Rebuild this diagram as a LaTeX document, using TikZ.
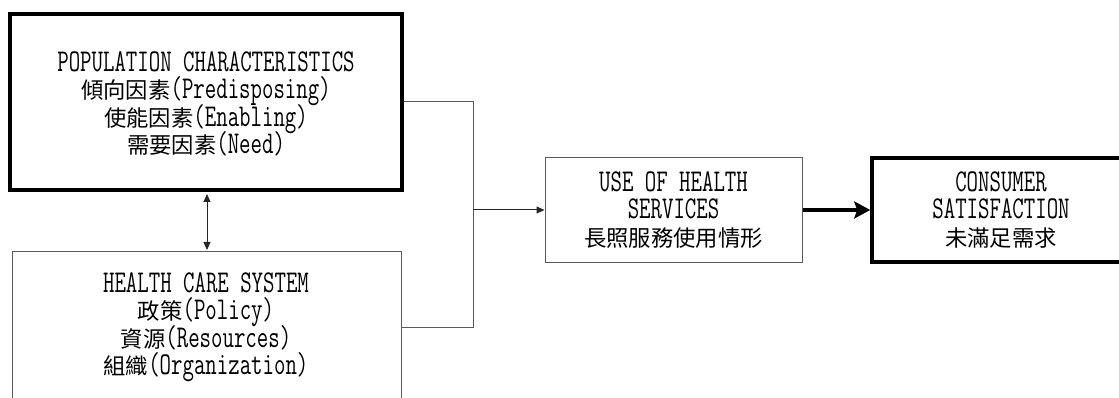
\documentclass[tikz,border=0pt]{standalone}
\usepackage{fontspec}
\setmainfont{Latin Modern Mono}[FakeStretch=0.70,Scale=1.35]
\newfontfamily\cjk{Noto Sans CJK TC}[Scale=0.95]
\usetikzlibrary{arrows.meta,calc}
\newcommand\lblfontsel{\fontsize{23.5}{27.5}\selectfont\lineskiplimit=-30pt\relax}
\begin{document}
\begin{tikzpicture}[x=1pt,y=-1pt,
  boxthick/.style={draw=black,line width=4pt,inner sep=0pt,fill=white},
  boxthin/.style={draw=black!65,line width=1pt,inner sep=0pt,fill=white},
  lbl/.style={align=center,inner sep=0pt,font=\lblfontsel},
  conn/.style={draw=black!65,line width=1pt},
  smallarrow/.style={draw=black!85,line width=1pt,-{Triangle[length=8pt,width=7pt]}},
  bigarrow/.style={draw=black,line width=4pt,-{Stealth[length=16pt,width=17pt,inset=3pt]}}
]
\useasboundingbox (0,0) rectangle (1119,398);
% boxes
\node[boxthick,minimum width=392pt,minimum height=176pt] (pop) at (206,102) {};
\node[boxthin,minimum width=389pt,minimum height=152pt] (hcs) at (206.5,327) {};
\node[boxthin,minimum width=257pt,minimum height=104pt] (use) at (673.5,210) {};
\node[boxthick,line width=3.5pt,minimum width=258pt,minimum height=104pt] (cs) at (1001,210) {};
% texts
\node[lbl] (poptext) at (206,104) {POPULATION CHARACTERISTICS\\{\cjk 傾向因素}(Predisposing)\\{\cjk 使能因素}(Enabling)\\{\cjk 需要因素}(Need)};
\node[lbl] (hcstext) at (206,327) {HEALTH CARE SYSTEM\\{\cjk 政策}(Policy)\\{\cjk 資源}(Resources)\\{\cjk 組織}(Organization)};
\node[lbl] (usetext) at (673.5,210) {USE OF HEALTH\\SERVICES\\{\cjk 長照服務使用情形}};
\node[lbl] (cstext) at (1001,210) {CONSUMER\\SATISFACTION\\{\cjk 未滿足需求}};
% connectors
\coordinate (jtop) at (473,102);
\coordinate (jbot) at (473,327);
\coordinate (jmid) at (473,210);
\draw[conn] (pop.east) -- (jtop) -- (jbot) -- (hcs.east);
\draw[smallarrow] (jmid) -- (use.west);
\draw[bigarrow] (use.east) -- (cs.west);
\draw[draw=black!85,line width=1pt,{Triangle[length=8pt,width=7pt]}-{Triangle[length=8pt,width=7pt]}] ($(pop.south)+(1,2)$) -- ($(hcs.north)+(0.5,-0.5)$);
\end{tikzpicture}
\end{document}
